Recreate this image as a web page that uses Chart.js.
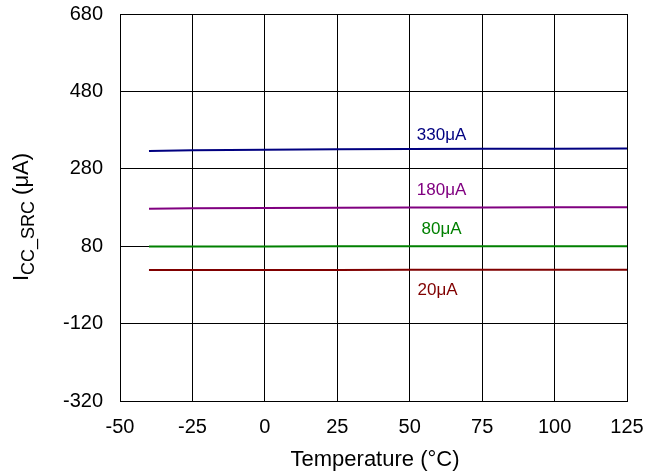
<!DOCTYPE html>
<html>
<head>
<meta charset="utf-8">
<script src="https://cdn.jsdelivr.net/npm/chart.js@4/dist/chart.umd.min.js"></script>
<style>
  body { margin: 0; background: #fff; }
  canvas { display: block; }
</style>
</head>
<body>
<canvas id="srcChart" width="646" height="475"></canvas>
<script>
// temperature points (°C)
var gTemps = [-40, -25, 0, 25, 50, 75, 100, 125];
// source current per setting (µA)
var gI330 = [326, 328, 329.5, 330.5, 331, 331.5, 332, 332.5];
var gI180 = [177, 178, 179, 179.5, 180, 180, 180.5, 180.5];
var gI80 = [79, 79.3, 79.5, 79.7, 80, 80, 80, 80];
var gI20 = [18.5, 18.6, 18.7, 18.8, 18.9, 19, 19, 19];
// in-plot labels
var gLabelText = ['330\u03bcA', '180\u03bcA', '80\u03bcA', '20\u03bcA'];
var gLabelX = [61, 61, 61, 59.6];
var gLabelY = [367, 225, 124, -35];
var gColors = ['#000080', '#800080', '#008000', '#800000'];

var gFont = 'Arial, "Liberation Sans", sans-serif';

function toPoints(pValues) {
    var vPoints = [];
    for (var i = 0; i < gTemps.length; i++) {
        vPoints.push({ x: gTemps[i], y: pValues[i] });
    }
    return vPoints;
}

function makeSet(pValues, pColor) {
    return {
        data: toPoints(pValues),
        borderColor: pColor,
        borderWidth: 2,
        pointRadius: 0,
        showLine: true,
        fill: false,
        tension: 0
    };
}

//draw titles and the current labels on top of the chart
var vTextPlugin = {
    id: 'textPlugin',
    afterDraw: function (chart) {
        var ctx = chart.ctx;
        var xs = chart.scales.x;
        var ys = chart.scales.y;
        ctx.save();
        ctx.textAlign = 'center';
        ctx.textBaseline = 'middle';
        ctx.font = '17px ' + gFont;
        for (var i = 0; i < gLabelText.length; i++) {
            ctx.fillStyle = gColors[i];
            ctx.fillText(gLabelText[i], xs.getPixelForValue(gLabelX[i]), ys.getPixelForValue(gLabelY[i]));
        }

        // x axis title
        ctx.fillStyle = '#000';
        ctx.textBaseline = 'alphabetic';
        ctx.font = '22px ' + gFont;
        ctx.fillText('Temperature (\u00b0C)', 375, 466);

        // y axis title with subscript
        var vMain = '22px ' + gFont;
        var vSub = '18px ' + gFont;
        ctx.font = vMain;
        var w1 = ctx.measureText('I').width;
        var w3 = ctx.measureText(' (\u03bcA)').width;
        ctx.font = vSub;
        var w2 = ctx.measureText('CC_SRC').width;
        var vTotal = w1 + w2 + w3;
        ctx.translate(28, 217);
        ctx.rotate(-Math.PI / 2);
        ctx.textAlign = 'left';
        var x0 = -vTotal / 2;
        ctx.font = vMain;
        ctx.fillText('I', x0, 0);
        ctx.font = vSub;
        ctx.fillText('CC_SRC', x0 + w1, 6);
        ctx.font = vMain;
        ctx.fillText(' (\u03bcA)', x0 + w1 + w2, 0);
        ctx.restore();
    }
};

var vWhiteBg = {
    id: 'whiteBg',
    beforeDraw: function (chart) {
        var ctx = chart.ctx;
        ctx.save();
        ctx.fillStyle = '#fff';
        ctx.fillRect(0, 0, chart.width, chart.height);
        ctx.restore();
    }
};

new Chart(document.getElementById('srcChart').getContext('2d'), {
    type: 'scatter',
    data: {
        datasets: [
            makeSet(gI330, gColors[0]),
            makeSet(gI180, gColors[1]),
            makeSet(gI80, gColors[2]),
            makeSet(gI20, gColors[3])
        ]
    },
    options: {
        responsive: false,
        animation: false,
        layout: { padding: { top: 14, right: 19, left: 0, bottom: 0 } },
        plugins: {
            legend: { display: false },
            tooltip: { enabled: false }
        },
        scales: {
            x: {
                type: 'linear',
                min: -50,
                max: 125,
                ticks: { stepSize: 25, color: '#000', font: { size: 20, family: gFont }, padding: 14, maxRotation: 0 },
                grid: { color: '#000', lineWidth: 1, drawTicks: false },
                border: { color: '#000', width: 1 },
                afterFit: function (scale) {
                    scale.height = 74;
                    scale.paddingLeft = 0;
                    scale.paddingRight = 0;
                }
            },
            y: {
                min: -320,
                max: 680,
                ticks: { stepSize: 200, color: '#000', font: { size: 20, family: gFont }, padding: 17 },
                grid: { color: '#000', lineWidth: 1, drawTicks: false },
                border: { color: '#000', width: 1 },
                afterFit: function (scale) {
                    scale.width = 120;
                    scale.paddingTop = 0;
                    scale.paddingBottom = 0;
                }
            }
        }
    },
    plugins: [vWhiteBg, vTextPlugin]
});
</script>
</body>
</html>
